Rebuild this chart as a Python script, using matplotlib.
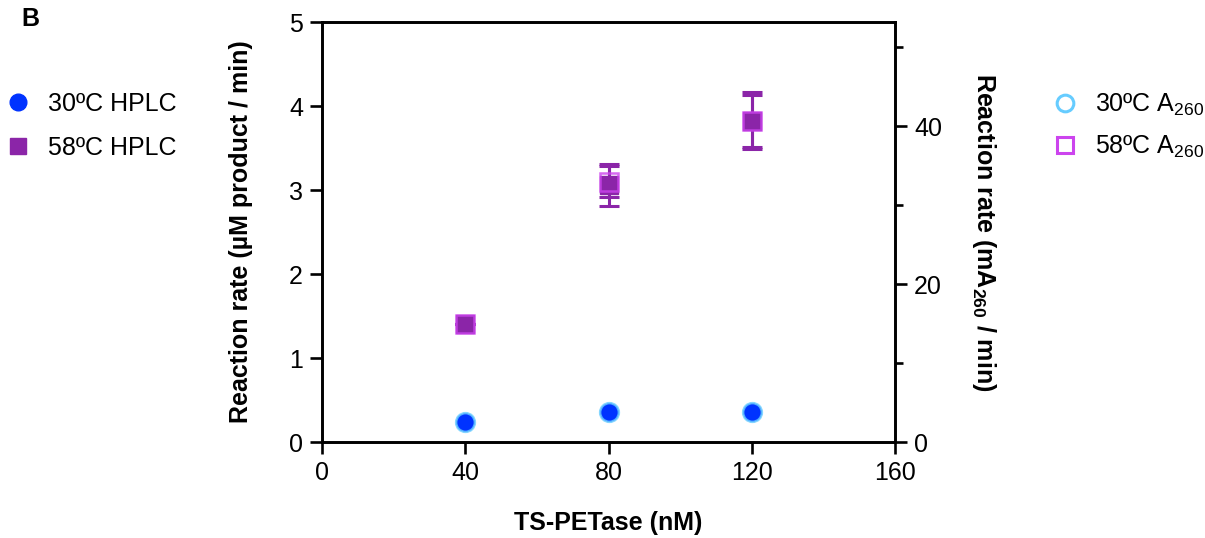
import matplotlib.pyplot as plt
from matplotlib.lines import Line2D

plt.rcParams['font.family'] = ['Liberation Sans', 'DejaVu Sans']
plt.rcParams['mathtext.fontset'] = 'custom'
plt.rcParams['mathtext.rm'] = 'Liberation Sans'
plt.rcParams['mathtext.bf'] = 'Liberation Sans:bold'

# data
enzyme_nM = [40, 80, 120]
hplc_30 = [0.24, 0.36, 0.36]
hplc_58 = [1.40, 3.06, 3.82]
hplc_58_err = [0.0, 0.25, 0.31]
a260_30 = [2.5, 3.8, 3.8]
a260_58 = [14.9, 33.0, 40.7]
a260_58_err = [0.0, 2.0, 3.6]

blue = '#0033ff'
light_blue = '#66ccff'
purple = '#8b25a8'
magenta = '#cc44ee'

fig = plt.figure(figsize=(12.05, 5.38), dpi=100)
ax = fig.add_axes([0.267, 0.1784, 0.476, 0.7806])
ax2 = ax.twinx()

lw = 1.9
for a in (ax, ax2):
    for s in a.spines.values():
        s.set_linewidth(lw)
    a.tick_params(width=lw, length=8.5, labelsize=18, direction='out', pad=5)
    a.tick_params(which='minor', width=lw, length=6)

# HPLC on the left axis
ax.errorbar(enzyme_nM, hplc_58, yerr=hplc_58_err, fmt='none', ecolor=purple,
            elinewidth=2.2, capsize=7, capthick=2.2, zorder=2)
ax.plot(enzyme_nM, hplc_58, 's', ms=13, color=purple, mec=purple, zorder=3)
ax.plot(enzyme_nM, hplc_30, 'o', ms=12.5, color=blue, mec=blue, zorder=3)

# A260 on the right axis
ax2.errorbar(enzyme_nM, a260_58, yerr=a260_58_err, fmt='none', ecolor=purple,
             elinewidth=2.2, capsize=7, capthick=2.2, zorder=2)
ax2.plot(enzyme_nM, a260_58, 's', ms=13.5, mfc='none', mec=magenta, mew=1.8, alpha=0.8)
ax2.plot(enzyme_nM, a260_30, 'o', ms=13.5, mfc='none', mec=light_blue, mew=1.8, alpha=0.8)

ax.set_xlim(0, 160)
ax.set_ylim(0, 5)
ax2.set_ylim(0, 53.2)
ax.set_xticks([0, 40, 80, 120, 160])
ax.set_yticks([0, 1, 2, 3, 4, 5])
ax2.set_yticks([0, 20, 40])
ax2.set_yticks([10, 30, 50], minor=True)

ax.set_xlabel('TS-PETase (nM)', fontsize=18, fontweight='bold', labelpad=19)
ax.set_ylabel('Reaction rate (µM product / min)', fontsize=18, fontweight='bold', labelpad=26)
ax2.set_ylabel('Reaction rate (mA$_{\\mathbf{260}}$ / min)', fontsize=18, fontweight='bold',
               rotation=-90, labelpad=40)

fig.text(0.018, 0.965, 'B', fontsize=18, fontweight='bold', va='center')

left_handles = [
    Line2D([], [], ls='none', marker='o', ms=12, color=blue),
    Line2D([], [], ls='none', marker='s', ms=11, color=purple),
]
fig.legend(left_handles, ['30ºC HPLC', '58ºC HPLC'], loc='center left',
           bbox_to_anchor=(-0.016, 0.766), frameon=False, fontsize=18,
           handletextpad=0.6, labelspacing=0.8, handlelength=1.2)

right_handles = [
    Line2D([], [], ls='none', marker='o', ms=12, mfc='none', mec=light_blue, mew=2.2),
    Line2D([], [], ls='none', marker='s', ms=11, mfc='none', mec=magenta, mew=2.2),
]
fig.legend(right_handles, ['30ºC A$_{260}$', '58ºC A$_{260}$'], loc='center left',
           bbox_to_anchor=(0.853, 0.766), frameon=False, fontsize=18,
           handletextpad=0.6, labelspacing=0.62, handlelength=1.2)

fig.savefig('out.png', dpi=100)
